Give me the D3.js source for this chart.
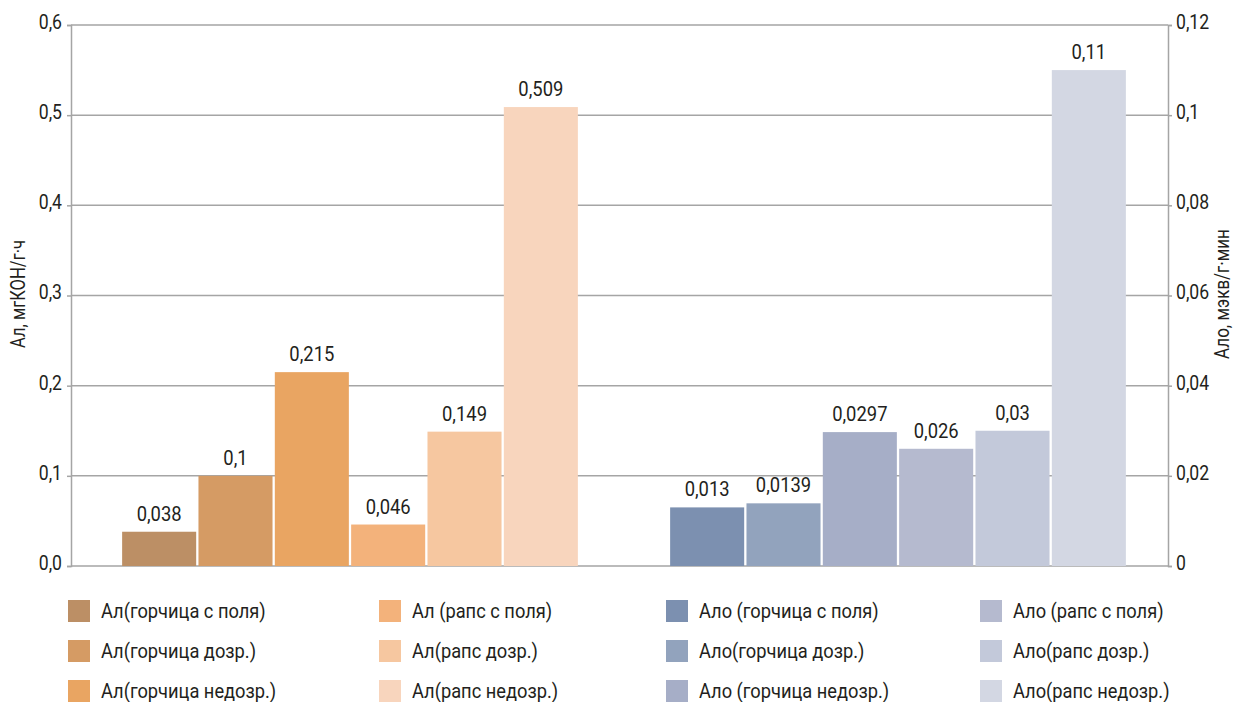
<!DOCTYPE html>
<html>
<head>
<meta charset="utf-8">
<script src="https://cdn.jsdelivr.net/npm/d3@7"></script>
<style>
  body { margin: 0; background: #fff; }
  text { font-family: "Roboto", "Liberation Sans", sans-serif; fill: #231f20; }
</style>
</head>
<body>
<div id="vis"></div>
<script>
// Данные
const groups = ['Ал', 'Ало'];
const alNames = ['Ал(горчица с поля)', 'Ал(горчица дозр.)', 'Ал(горчица недозр.)',
  'Ал (рапс с поля)', 'Ал(рапс дозр.)', 'Ал(рапс недозр.)'];
const alValues = [0.038, 0.1, 0.215, 0.046, 0.149, 0.509];
const aloNames = ['Ало (горчица с поля)', 'Ало(горчица дозр.)', 'Ало (горчица недозр.)',
  'Ало (рапс с поля)', 'Ало(рапс дозр.)', 'Ало(рапс недозр.)'];
const aloValues = [0.013, 0.0139, 0.0297, 0.026, 0.03, 0.11];
const leftTicks = [0, 0.1, 0.2, 0.3, 0.4, 0.5, 0.6];
const rightTicks = [0, 0.02, 0.04, 0.06, 0.08, 0.1, 0.12];

const alColors = ['#bc8f65', '#d59b64', '#e9a562', '#f3b27b', '#f6c7a0', '#f8d5bd'];
const aloColors = ['#7c90b0', '#92a3bd', '#a6aec7', '#b5bacf', '#c3c9da', '#d3d7e3'];

const WIDTH = 1234;
const HEIGHT = 702;
const MARGIN = { top: 25, bottom: 136, left: 71, right: 66 };
const GRID = '#a5a5a5';

const SVG = d3.select('#vis').append('svg')
  .attr('width', WIDTH).attr('height', HEIGHT);

// сжимаем шрифт по горизонтали (в оригинале узкий гротеск)
function condense(sel, k) {
  sel.each(function () {
    const w = this.getComputedTextLength();
    d3.select(this).attr('textLength', w * k).attr('lengthAdjust', 'spacingAndGlyphs');
  });
}

const x0 = d3.scaleBand().domain(groups)
  .range([76, 1172])
  .paddingInner(0.16).paddingOuter(0.08);
const x1 = d3.scaleBand().domain(d3.range(6))
  .range([0, x0.bandwidth()]).padding(0.03);

const yLeft = d3.scaleLinear().domain([0, 0.6]).range([HEIGHT - MARGIN.bottom, MARGIN.top]);
const yRight = d3.scaleLinear().domain([0, 0.12]).range([HEIGHT - MARGIN.bottom, MARGIN.top]);

const fmt = (v) => String(v).replace('.', ',');

// сетка
SVG.append('g').selectAll('line').data(leftTicks).join('line')
  .attr('x1', MARGIN.left).attr('x2', WIDTH - MARGIN.right)
  .attr('y1', (d) => yLeft(d)).attr('y2', (d) => yLeft(d))
  .attr('stroke', GRID).attr('stroke-width', 1.5);

// левая ось
const axL = SVG.append('g').attr('transform', `translate(${MARGIN.left},0)`)
  .call(d3.axisLeft(yLeft).tickValues(leftTicks).tickSize(4).tickPadding(5)
    .tickFormat((d) => d3.format('.1f')(d).replace('.', ',')));
axL.attr('font-family', null);
axL.select('.domain').attr('stroke', GRID).attr('stroke-width', 1.5);
axL.selectAll('.tick line').attr('stroke', GRID).attr('stroke-width', 1.5);
axL.selectAll('.tick text').attr('font-size', 20).attr('fill', '#231f20')
  .attr('dy', '0.17em').call(condense, 0.88);

// правая ось
const axR = SVG.append('g').attr('transform', `translate(${WIDTH - MARGIN.right},0)`)
  .call(d3.axisRight(yRight).tickValues(rightTicks).tickSize(4).tickPadding(4)
    .tickFormat(fmt));
axR.attr('font-family', null);
axR.select('.domain').attr('stroke', GRID).attr('stroke-width', 1.5);
axR.selectAll('.tick line').attr('stroke', GRID).attr('stroke-width', 1.5);
axR.selectAll('.tick text').attr('font-size', 20).attr('fill', '#231f20')
  .attr('dy', '0.17em').call(condense, 0.88);

// подписи осей
SVG.append('text')
  .attr('transform', `translate(25,294) rotate(-90)`)
  .attr('text-anchor', 'middle').attr('font-size', 20)
  .text('Ал, мгКОН/г·ч').call(condense, 0.83);
SVG.append('text')
  .attr('transform', `translate(1229,294) rotate(-90)`)
  .attr('text-anchor', 'middle').attr('font-size', 20)
  .text('Ало, мэкв/г·мин').call(condense, 0.85);

// столбцы
function drawGroup(key, values, scale, colors) {
  const g = SVG.append('g').attr('transform', `translate(${x0(key)},0)`);
  g.selectAll('rect').data(values).join('rect')
    .attr('x', (d, i) => x1(i))
    .attr('width', x1.bandwidth())
    .attr('y', (d) => scale(d))
    .attr('height', (d) => scale(0) - scale(d))
    .attr('fill', (d, i) => colors[i]);
  g.selectAll('text').data(values).join('text')
    .attr('x', (d, i) => x1(i) + x1.bandwidth() / 2)
    .attr('y', (d) => scale(d) - 11)
    .attr('text-anchor', 'middle')
    .attr('font-size', 20)
    .text(fmt)
    .call(condense, 0.92);
}
drawGroup('Ал', alValues, yLeft, alColors);
drawGroup('Ало', aloValues, yRight, aloColors);

// легенда
const legendCols = [68, 379, 666, 980];
const legendItems = alNames.map((n, i) => ({ name: n, color: alColors[i], col: Math.floor(i / 3), row: i % 3 }))
  .concat(aloNames.map((n, i) => ({ name: n, color: aloColors[i], col: 2 + Math.floor(i / 3), row: i % 3 })));

const leg = SVG.append('g').selectAll('g').data(legendItems).join('g')
  .attr('transform', (d) => `translate(${legendCols[d.col]},${600 + d.row * 40})`);
leg.append('rect').attr('width', 22).attr('height', 22).attr('fill', (d) => d.color);
leg.append('text').attr('x', 33).attr('y', 18).attr('font-size', 21)
  .text((d) => d.name).call(condense, 0.87);
</script>
</body>
</html>
